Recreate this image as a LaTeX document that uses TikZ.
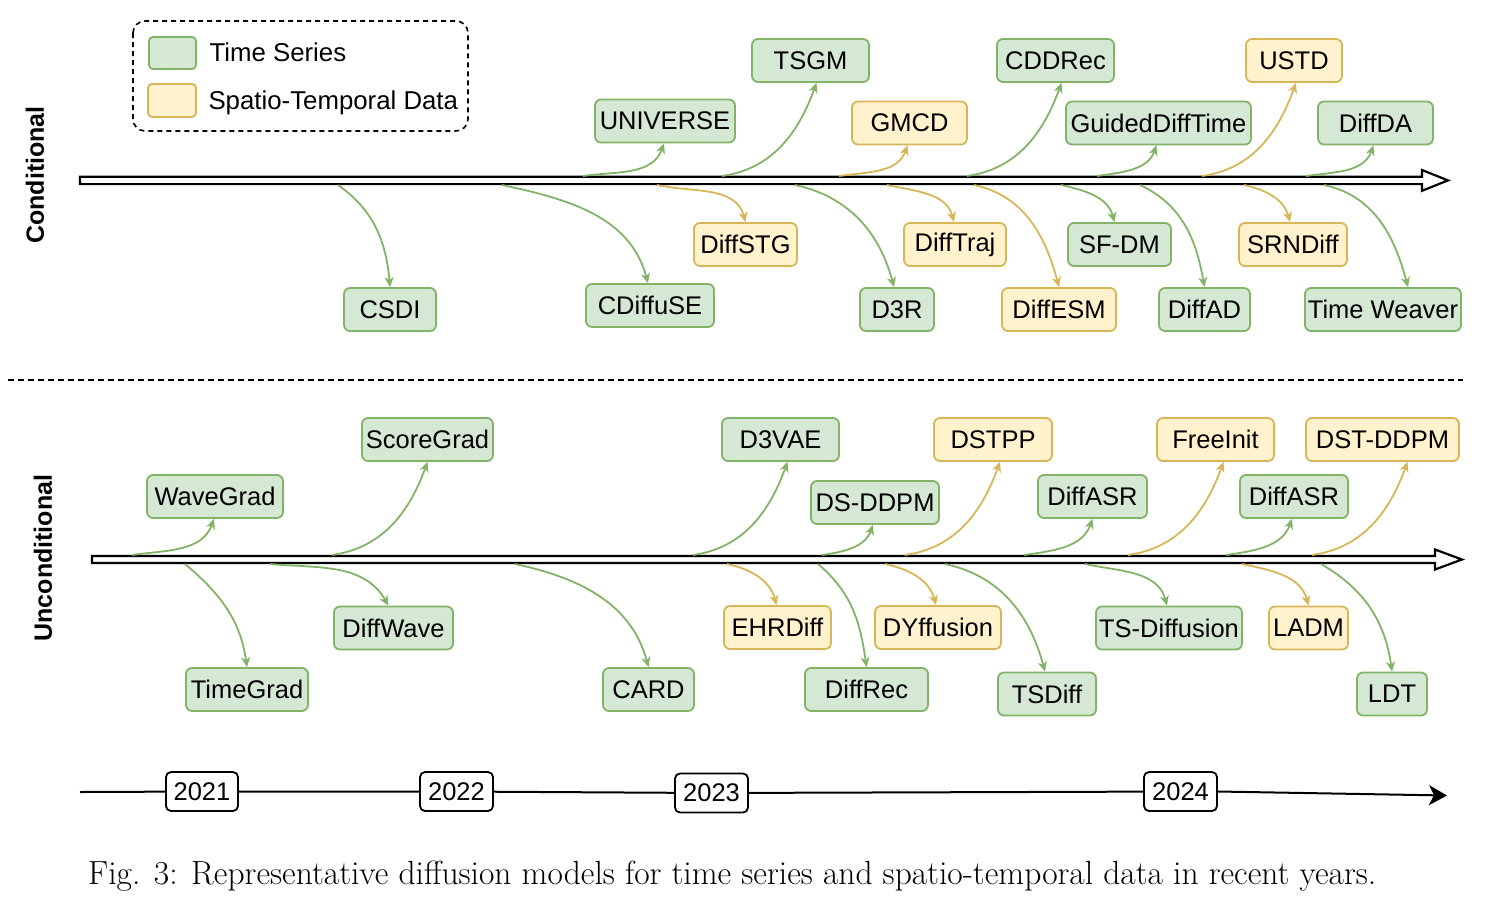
\documentclass[tikz,border=0pt]{standalone}
\usepackage{fontspec}
\usepackage{graphicx}
\newfontfamily\arialf{Liberation Sans}
\usetikzlibrary{arrows.meta,calc}
\definecolor{gfill}{HTML}{D5E8D4}
\definecolor{gstroke}{HTML}{82B366}
\definecolor{yfill}{HTML}{FFF2CC}
\definecolor{ystroke}{HTML}{D6B656}
\tikzset{
  base/.style={draw, rounded corners=6pt, line width=1.8pt, minimum height=43pt, inner sep=0pt, font=\arialf\fontsize{25.5}{30}\selectfont},
  gbox/.style={base, draw=gstroke, fill=gfill},
  ybox/.style={base, draw=ystroke, fill=yfill},
  yearbox/.style={base, draw=black, fill=white, minimum height=39pt, rounded corners=5pt},
  garr/.style={draw=gstroke, line width=1.8pt, -{Stealth[length=10pt,width=9pt,inset=3pt]}},
  yarr/.style={draw=ystroke, line width=1.8pt, -{Stealth[length=10pt,width=9pt,inset=3pt]}},
  upc/.style={out=8,in=-110},
  dnc/.style={out=-12,in=105},
  tl/.style={draw=black, line width=2.2pt, fill=white, line join=miter},
  lbl/.style={font=\arialf\fontsize{25.8}{30}\selectfont},
}
\begin{document}
\begin{tikzpicture}[x=1pt,y=-1pt]
\useasboundingbox (0,0) rectangle (1490,900);

% legend
\draw[line width=1.6pt, dash pattern=on 5pt off 4pt, rounded corners=12pt] (133,21) rectangle (468,131);
\node[gbox, minimum width=47pt, minimum height=32pt, rounded corners=4pt] (lg) at (172.5,53) {};
\node[ybox, minimum width=48pt, minimum height=33pt, rounded corners=4pt] (ly) at (172,100.5) {};
\node[lbl, anchor=west] (lgt) at (206,52) {Time Series};
\node[lbl, anchor=west] (lyt) at (205,103) {Spatio-Temporal Data};

% side labels
\node[rotate=90, font=\arialf\bfseries\fontsize{25}{30}\selectfont] (cond) at (35,175) {Conditional};
\node[rotate=90, font=\arialf\bfseries\fontsize{25}{30}\selectfont] (uncond) at (43,558) {Unconditional};

% timelines
\draw[tl] (80,176.7) -- (1422,176.7) -- (1422,170) -- (1448,180.4) -- (1422,190.8) -- (1422,184.1) -- (80,184.1) -- cycle;
\draw[tl] (92,556) -- (1435,556) -- (1435,549.5) -- (1462,559.5) -- (1435,569.5) -- (1435,563) -- (92,563) -- cycle;

% separator
\draw[line width=1.5pt, dash pattern=on 6pt off 4pt] (8,380) -- (1463,380);

% ---------- conditional, above ----------
\node[gbox, minimum width=140pt] (universe) at (665,121) {UNIVERSE};
\node[gbox, minimum width=117pt] (tsgm) at (810.5,60.5) {TSGM};
\node[ybox, minimum width=115pt] (gmcd) at (909.5,123) {GMCD};
\node[gbox, minimum width=117pt] (cddrec) at (1055.5,60.5) {CDDRec};
\node[gbox, minimum width=185pt] (guided) at (1158.5,123) {GuidedDiffTime};
\node[ybox, minimum width=96pt] (ustd) at (1294,60.5) {USTD};
\node[gbox, minimum width=115pt] (diffda) at (1375.5,123) {DiffDA};

\coordinate (a1) at (583,176);
\coordinate (a2) at (722,176);
\coordinate (a3) at (839,176);
\coordinate (a4) at (967,176);
\coordinate (a5) at (1097,176);
\coordinate (a6) at (1202,176);
\coordinate (a7) at (1306,176);
\draw[garr] (a1) to[upc] ($(universe.south)+(-1,0)$);
\draw[garr] (a2) to[upc] ($(tsgm.south)+(6,0)$);
\draw[yarr] (a3) to[upc] ($(gmcd.south)+(-2,0)$);
\draw[garr] (a4) to[upc] ($(cddrec.south)+(6,0)$);
\draw[garr] (a5) to[upc] ($(guided.south)+(-2,0)$);
\draw[yarr] (a6) to[upc] ($(ustd.south)+(2,0)$);
\draw[garr] (a7) to[upc] ($(diffda.south)+(-2,0)$);

% ---------- conditional, below ----------
\node[gbox, minimum width=92pt] (csdi) at (390,309.5) {CSDI};
\node[gbox, minimum width=128pt] (cdiffuse) at (650,305.5) {CDiffuSE};
\node[ybox, minimum width=103pt] (diffstg) at (745.5,244.5) {DiffSTG};
\node[gbox, minimum width=74pt] (d3r) at (897,309.5) {D3R};
\node[ybox, minimum width=102pt] (difftraj) at (955,244.5) {DiffTraj};
\node[ybox, minimum width=114pt] (diffesm) at (1059,309.5) {DiffESM};
\node[gbox, minimum width=103pt] (sfdm) at (1119.5,244.5) {SF-DM};
\node[gbox, minimum width=91pt] (diffad) at (1204.5,309.5) {DiffAD};
\node[ybox, minimum width=108pt] (srndiff) at (1293,244.5) {SRNDiff};
\node[gbox, minimum width=156pt] (timeweaver) at (1383,309.5) {Time Weaver};

\coordinate (b1) at (338,185);
\coordinate (b2) at (502,185);
\coordinate (b3) at (657,185);
\coordinate (b4) at (795,185);
\coordinate (b5) at (887,185);
\coordinate (b6) at (974,185);
\coordinate (b7) at (1061,185);
\coordinate (b8) at (1140,185);
\coordinate (b9) at (1244,185);
\coordinate (b10) at (1324,185);
\draw[garr] (b1) to[out=-35,in=95] (csdi.north);
\draw[garr] (b2) to[dnc] ($(cdiffuse.north)+(-2,0)$);
\draw[yarr] (b3) to[dnc] (diffstg.north);
\draw[garr] (b4) to[dnc] ($(d3r.north)+(-3,0)$);
\draw[yarr] (b5) to[dnc] ($(difftraj.north)+(-1,0)$);
\draw[yarr] (b6) to[dnc] (diffesm.north);
\draw[garr] (b7) to[dnc] ($(sfdm.north)+(-5,0)$);
\draw[garr] (b8) to[out=-25,in=100] (diffad.north);
\draw[yarr] (b9) to[dnc] ($(srndiff.north)+(-3,0)$);
\draw[garr] (b10) to[dnc] ($(timeweaver.north)+(25,0)$);

% ---------- unconditional, above ----------
\node[gbox, minimum width=136pt] (wavegrad) at (215,496.5) {WaveGrad};
\node[gbox, minimum width=131pt] (scoregrad) at (427.5,439.5) {ScoreGrad};
\node[gbox, minimum width=117pt] (d3vae) at (780.5,439.5) {D3VAE};
\node[gbox, minimum width=128pt] (dsddpm) at (875,502.5) {DS-DDPM};
\node[ybox, minimum width=118pt] (dstpp) at (993,439.5) {DSTPP};
\node[gbox, minimum width=109pt] (diffasra) at (1092.5,496.5) {DiffASR};
\node[ybox, minimum width=117pt] (freeinit) at (1215.5,439.5) {FreeInit};
\node[gbox, minimum width=108pt] (diffasrb) at (1294,496.5) {DiffASR};
\node[ybox, minimum width=153pt] (dstddpm) at (1382.5,439.5) {DST-DDPM};

\coordinate (c1) at (132,555);
\coordinate (c2) at (332,555);
\coordinate (c3) at (693,555);
\coordinate (c4) at (822,555);
\coordinate (c5) at (905,555);
\coordinate (c6) at (1024,555);
\coordinate (c7) at (1128,555);
\coordinate (c8) at (1226,555);
\coordinate (c9) at (1312,555);
\draw[garr] (c1) to[upc] ($(wavegrad.south)+(-1,0)$);
\draw[garr] (c2) to[upc] (scoregrad.south);
\draw[garr] (c3) to[upc] ($(d3vae.south)+(7,0)$);
\draw[garr] (c4) to[upc] ($(dsddpm.south)+(-2,0)$);
\draw[yarr] (c5) to[upc] ($(dstpp.south)+(7,0)$);
\draw[garr] (c6) to[upc] (diffasra.south);
\draw[yarr] (c7) to[upc] ($(freeinit.south)+(8,0)$);
\draw[garr] (c8) to[upc] ($(diffasrb.south)+(-2,0)$);
\draw[yarr] (c9) to[upc] ($(dstddpm.south)+(25,0)$);

% ---------- unconditional, below ----------
\node[gbox, minimum width=122pt] (timegrad) at (247,689.5) {TimeGrad};
\node[gbox, minimum width=119pt] (diffwave) at (393.5,628) {DiffWave};
\node[gbox, minimum width=91pt] (card) at (648.5,689.5) {CARD};
\node[ybox, minimum width=107pt] (ehrdiff) at (777.5,627.5) {EHRDiff};
\node[gbox, minimum width=123pt] (diffrec) at (866.5,689.5) {DiffRec};
\node[ybox, minimum width=126pt] (dyffusion) at (938,627.5) {DYffusion};
\node[gbox, minimum width=98pt] (tsdiff) at (1047,694) {TSDiff};
\node[gbox, minimum width=146pt] (tsdiffusion) at (1169,628) {TS-Diffusion};
\node[ybox, minimum width=79pt] (ladm) at (1308.5,628) {LADM};
\node[gbox, minimum width=70pt] (ldt) at (1392,694) {LDT};

\coordinate (d1) at (185,564);
\coordinate (d2) at (270,564);
\coordinate (d3) at (515,564);
\coordinate (d4) at (727,564);
\coordinate (d5) at (818,564);
\coordinate (d6) at (885,564);
\coordinate (d7) at (945,564);
\coordinate (d8) at (1085,564);
\coordinate (d9) at (1242,564);
\coordinate (d10) at (1321,564);
\draw[garr] (d1) to[out=-40,in=98] (timegrad.north);
\draw[garr] (d2) to[out=-5,in=120] ($(diffwave.north)+(-5,0)$);
\draw[garr] (d3) to[dnc] (card.north);
\draw[yarr] (d4) to[dnc] ($(ehrdiff.north)+(-1,0)$);
\draw[garr] (d5) to[out=-40,in=98] (diffrec.north);
\draw[yarr] (d6) to[dnc] ($(dyffusion.north)+(-2,0)$);
\draw[garr] (d7) to[dnc] ($(tsdiff.north)+(-2,0)$);
\draw[garr] (d8) to[dnc] ($(tsdiffusion.north)+(-2,0)$);
\draw[yarr] (d9) to[dnc] (ladm.north);
\draw[garr] (d10) to[out=-30,in=98] (ldt.north);

% ---------- years ----------
\node[yearbox, minimum width=72pt] (y21) at (202,791.5) {2021};
\node[yearbox, minimum width=73pt] (y22) at (456.5,791.5) {2022};
\node[yearbox, minimum width=73pt] (y23) at (711.5,793) {2023};
\node[yearbox, minimum width=73pt] (y24) at (1180.5,791.5) {2024};
\coordinate (ys) at (80,792);
\coordinate (ye) at (1447,795.5);
\draw[line width=2pt] (ys) -- (y21) -- (y22) -- (y23) -- (y24);
\draw[line width=2pt, -{Stealth[length=18pt,width=20pt,inset=5pt]}] (y24.east) -- (ye);

% caption
\node[anchor=west, inner sep=0pt] (cap) at (88,876) {\resizebox{1288pt}{!}{\fontsize{29}{34}\selectfont Fig. 3: Representative diffusion models for time series and spatio-temporal data in recent years.}};
\end{tikzpicture}
\end{document}
